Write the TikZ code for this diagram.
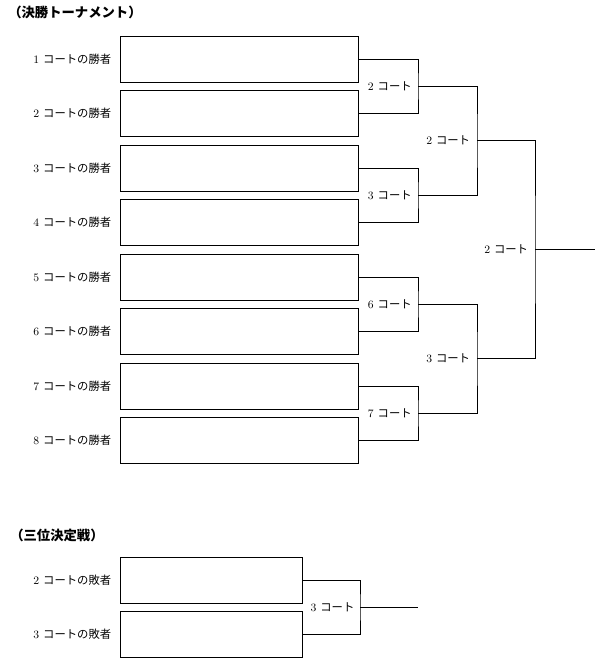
\documentclass[tikz,border=0pt]{standalone}
\usepackage{fontspec}
\usepackage{tikz}
\usetikzlibrary{positioning}
\newfontfamily\cjk{Noto Sans CJK JP}
\newcommand{\courtno}[1]{#1\hspace{0.35em}{\cjk コート}}
\tikzset{
  slot/.style={
    rectangle, draw=black, line width=0.75pt,
    minimum width=178.5pt, minimum height=34.5pt, inner sep=0pt
  },
  thirdslot/.style={slot, minimum width=136.5pt},
  entrant/.style={font=\fontsize{8.5}{10}\selectfont, inner sep=0pt},
  court/.style={font=\fontsize{8.5}{10}\selectfont, inner sep=0pt},
  heading/.style={font=\fontsize{10}{12}\selectfont\cjk\bfseries,
    anchor=west, inner sep=0pt},
  bracket/.style={line width=0.6pt, draw=black},
}

\begin{document}
\begin{tikzpicture}[x=0.75pt, y=-0.75pt]
  \useasboundingbox (0,0) rectangle (607,671);

  %% ── Final tournament ──────────────────────────────────────────────────────
  \node[heading] (finalttl) at (8,12) {（決勝トーナメント）};
  \foreach \i in {1,...,8} {
    \node[slot] (w\i) at (239, {59+54.5*(\i-1)}) {};
    \node[entrant, left=6pt of w\i] (n\i) {\i\hspace{0.35em}{\cjk コートの勝者}};
  }

  % junctions
  \coordinate (m1) at (418, 86.25);
  \coordinate (m2) at (418, 195.25);
  \coordinate (m3) at (418, 304.25);
  \coordinate (m4) at (418, 413.25);
  \coordinate (q1) at (477, 140.75);
  \coordinate (q2) at (477, 358.75);
  \coordinate (fin) at (535, 249.75);
  \coordinate (finend) at (595, 249.75);

  %% ── Brackets ──────────────────────────────────────────────────────────────
  \draw[bracket] (w1.east) -| (m1) |- (w2.east);
  \draw[bracket] (w3.east) -| (m2) |- (w4.east);
  \draw[bracket] (w5.east) -| (m3) |- (w6.east);
  \draw[bracket] (w7.east) -| (m4) |- (w8.east);
  \draw[bracket] (m1) -| (q1) |- (m2);
  \draw[bracket] (m3) -| (q2) |- (m4);
  \draw[bracket] (q1) -| (fin) |- (q2);
  \draw[bracket] (fin) -- (finend);

  \node[court, left=4.5pt of m1] (c1) {\courtno{2}};
  \node[court, left=4.5pt of m2] (c2) {\courtno{3}};
  \node[court, left=4.5pt of m3] (c3) {\courtno{6}};
  \node[court, left=4.5pt of m4] (c4) {\courtno{7}};
  \node[court, left=5pt of q1] (c5) {\courtno{2}};
  \node[court, left=5pt of q2] (c6) {\courtno{3}};
  \node[court, left=5pt of fin] (c7) {\courtno{2}};

  %% ── Third place ───────────────────────────────────────────────────────────
  \node[heading] (thirdttl) at (10,535) {（三位決定戦）};
  \node[thirdslot] (l1) at (211, 580) {};
  \node[thirdslot] (l2) at (211, 634.5) {};
  \node[entrant, left=6pt of l1] (ln1) {2\hspace{0.35em}{\cjk コートの敗者}};
  \node[entrant, left=6pt of l2] (ln2) {3\hspace{0.35em}{\cjk コートの敗者}};

  \coordinate (tp) at (360, 607.25);
  \coordinate (tpend) at (418, 607.25);
  \draw[bracket] (l1.east) -| (tp) |- (l2.east);
  \draw[bracket] (tp) -- (tpend);
  \node[court, left=4pt of tp] (c8) {\courtno{3}};

\end{tikzpicture}
\end{document}
